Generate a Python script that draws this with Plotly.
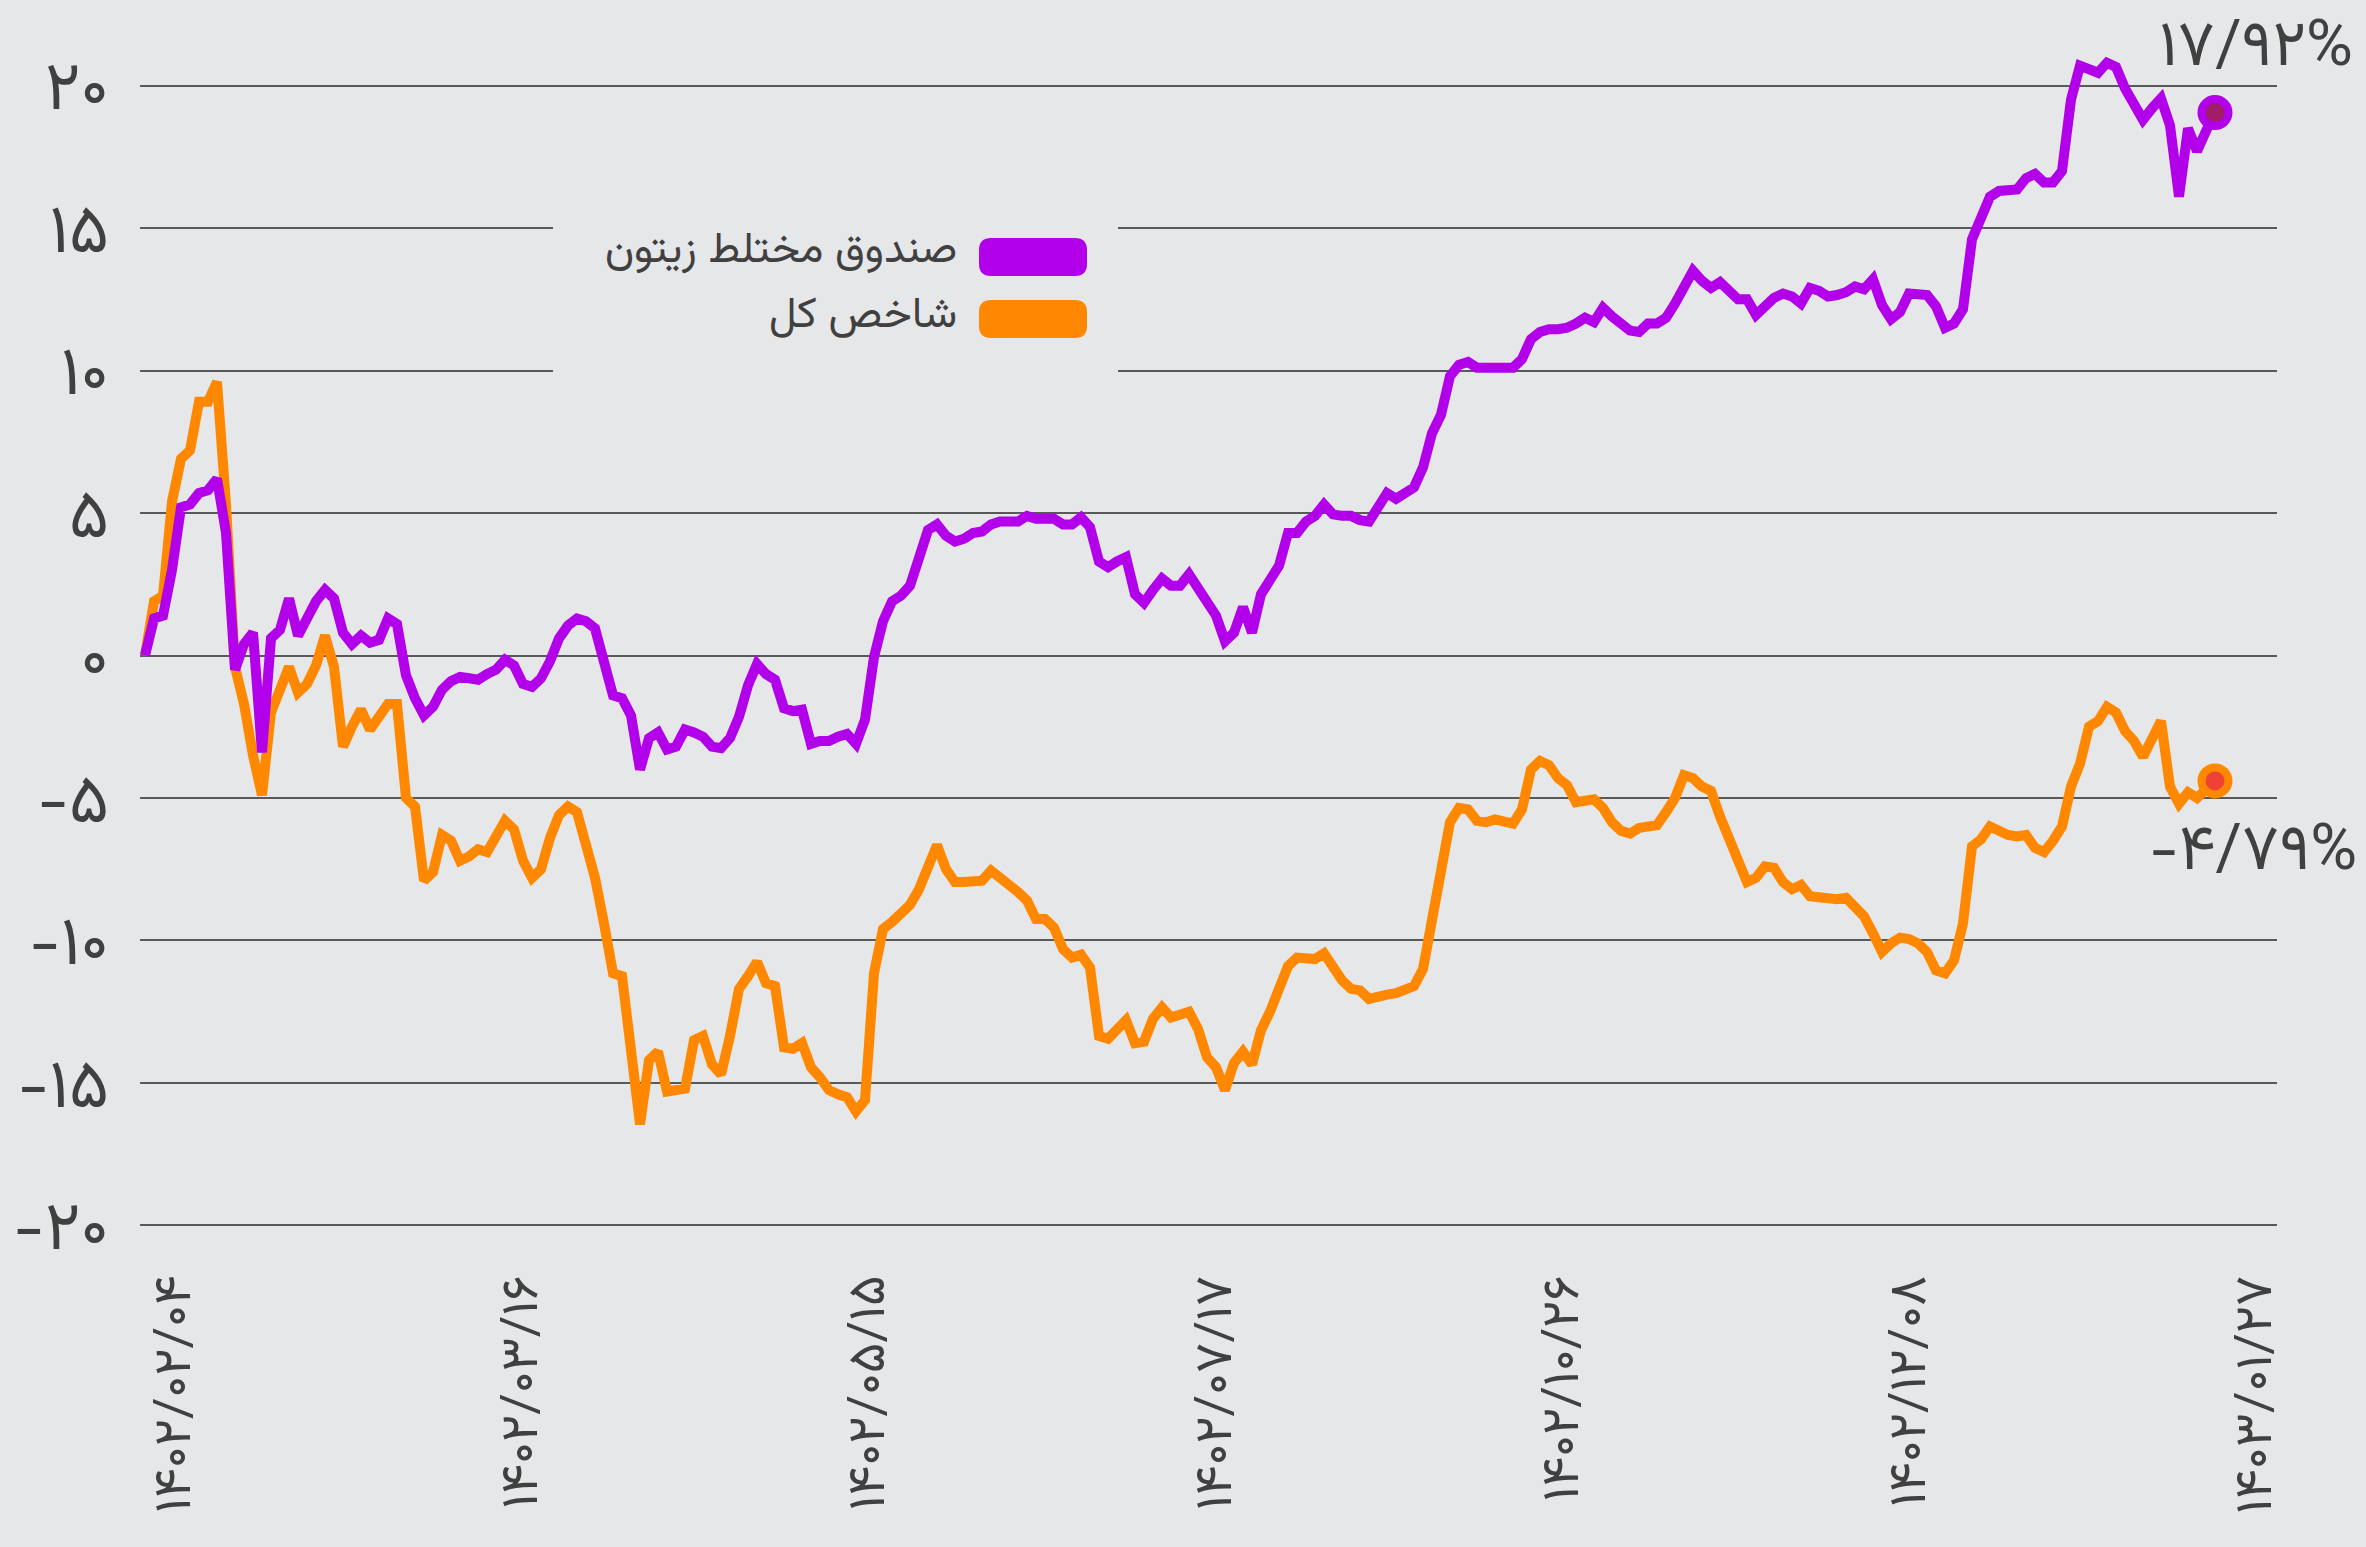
import plotly.graph_objects as go

# ---------------- data ----------------
fund_returns = [
    0.0, 1.3, 1.4, 3.0, 5.2, 5.3, 5.7, 5.8, 6.2, 4.3,
    -0.5, 0.4, 0.8, -3.4, 0.6, 0.9, 2.0, 0.7, 1.3, 1.9,
    2.3, 2.0, 0.8, 0.4, 0.7, 0.45, 0.55, 1.3, 1.1, -0.7,
    -1.5, -2.1, -1.8, -1.2, -0.9, -0.75, -0.8, -0.85, -0.65, -0.5,
    -0.15, -0.35, -1.0, -1.1, -0.8, -0.2, 0.6, 1.05, 1.3, 1.2,
    0.95, -0.25, -1.4, -1.5, -2.1, -4.0, -2.9, -2.7, -3.3, -3.2,
    -2.6, -2.7, -2.85, -3.2, -3.25, -2.9, -2.15, -1.05, -0.3, -0.65,
    -0.85, -1.85, -1.95, -1.9, -3.1, -3.0, -3.0, -2.85, -2.75, -3.1,
    -2.25, -0.05, 1.2, 1.9, 2.1, 2.45, 3.3, 4.4, 4.6, 4.2,
    4.0, 4.1, 4.3, 4.35, 4.6, 4.7, 4.7, 4.7, 4.9, 4.8,
    4.8, 4.8, 4.6, 4.6, 4.85, 4.5, 3.3, 3.1, 3.3, 3.45,
    2.15, 1.85, 2.3, 2.7, 2.45, 2.45, 2.85, 2.35, 1.8, 1.4,
    0.5, 0.8, 1.7, 0.8, 2.15, 2.65, 3.15, 4.3, 4.3, 4.7,
    4.9, 5.3, 4.95, 4.9, 4.9, 4.75, 4.7, 5.2, 5.7, 5.5,
    5.75, 5.9, 6.6, 7.8, 8.45, 9.8, 10.2, 10.3, 10.1, 10.1,
    10.15, 10.15, 10.1, 10.4, 11.1, 11.35, 11.45, 11.45, 11.5, 11.65,
    11.85, 11.7, 12.2, 11.9, 11.6, 11.4, 11.35, 11.65, 11.65, 11.85,
    12.35, 12.9, 13.5, 13.15, 12.9, 13.1, 12.8, 12.5, 12.5, 11.95,
    12.25, 12.55, 12.7, 12.6, 12.35, 12.9, 12.8, 12.6, 12.65, 12.75,
    12.95, 12.85, 13.2, 12.3, 11.8, 12.05, 12.7, 12.65, 12.65, 12.25,
    11.5, 11.65, 12.15, 14.6, 15.4, 16.1, 16.3, 16.35, 16.35, 16.75,
    16.9, 16.6, 16.6, 17.0, 19.5, 20.7, 20.6, 20.45, 20.8, 20.65,
    19.9, 19.4, 18.8, 19.2, 19.55, 18.6, 16.1, 18.5, 17.7, 18.4,
    19.05,
]

index_returns = [
    0.0, 1.9, 2.1, 5.4, 6.9, 7.2, 8.9, 8.9, 9.6, 5.3,
    -0.4, -1.7, -3.5, -4.9, -2.0, -1.1, -0.4, -1.3, -1.0, -0.35,
    0.7, -0.4, -3.2, -2.5, -1.9, -2.6, -2.2, -1.7, -1.7, -5.0,
    -5.3, -7.9, -7.6, -6.3, -6.5, -7.2, -7.05, -6.8, -6.9, -6.3,
    -5.8, -6.1, -7.2, -7.8, -7.5, -6.4, -5.6, -5.3, -5.5, -6.65,
    -7.8, -9.4, -11.15, -11.25, -13.85, -16.45, -14.2, -13.9, -15.3, -15.25,
    -15.2, -13.5, -13.35, -14.35, -14.7, -13.35, -11.7, -11.25, -10.75, -11.5,
    -11.6, -13.75, -13.8, -13.6, -14.45, -14.8, -15.25, -15.4, -15.5, -16.0,
    -15.6, -11.15, -9.6, -9.35, -9.05, -8.75, -8.2, -7.45, -6.65, -7.5,
    -7.95, -7.95, -7.9, -7.9, -7.55, -7.75, -8.05, -8.3, -8.6, -9.25,
    -9.25, -9.55, -10.3, -10.6, -10.5, -10.95, -13.35, -13.45, -13.1, -12.8,
    -13.6, -13.55, -12.75, -12.35, -12.7, -12.6, -12.5, -13.1, -14.1, -14.45,
    -15.25, -14.3, -13.9, -14.35, -13.15, -12.5, -11.8, -10.9, -10.6, -10.6,
    -10.65, -10.45, -11.0, -11.4, -11.7, -11.75, -12.05, -11.95, -11.9, -11.85,
    -11.7, -11.6, -11.0, -9.4, -7.65, -5.85, -5.35, -5.4, -5.8, -5.85,
    -5.75, -5.85, -5.9, -5.4, -4.0, -3.7, -3.85, -4.3, -4.55, -5.15,
    -5.1, -5.05, -5.35, -5.85, -6.15, -6.25, -6.05, -6.0, -5.95, -5.5,
    -5.0, -4.2, -4.3, -4.6, -4.75, -5.65, -6.45, -7.2, -7.95, -7.8,
    -7.4, -7.45, -7.95, -8.2, -8.05, -8.45, -8.5, -8.55, -8.55, -8.5,
    -8.85, -9.15, -9.75, -10.4, -10.1, -9.9, -9.95, -10.1, -10.4, -11.05,
    -11.15, -10.7, -9.4, -6.7, -6.45, -6.0, -6.15, -6.3, -6.35, -6.3,
    -6.75, -6.9, -6.5, -6.0, -4.6, -3.8, -2.5, -2.3, -1.8, -2.0,
    -2.65, -3.0, -3.55, -3.0, -2.3, -4.6, -5.2, -4.8, -5.0, -4.7,
    -4.4,
]

day_index = list(range(len(fund_returns)))

x_tick_labels = ["۱۴۰۲/۰۲/۰۴", "۱۴۰۲/۰۳/۱۶", "۱۴۰۲/۰۵/۱۵", "۱۴۰۲/۰۷/۱۷",
                 "۱۴۰۲/۱۰/۲۶", "۱۴۰۲/۱۲/۰۸", "۱۴۰۳/۰۱/۲۷"]
x_tick_positions = [3.1, 41.7, 80.2, 118.8, 157.3, 195.9, 234.4]

y_tick_values = [-20, -15, -10, -5, 0, 5, 10, 15, 20]
y_tick_labels = ["-۲۰", "-۱۵", "-۱۰", "-۵", "۰", "۵", "۱۰", "۱۵", "۲۰"]

series_names = ["صندوق مختلط زیتون", "شاخص کل"]
end_labels = ["۱۷/۹۲%", "-۴/۷۹%"]

# ---------------- style ----------------
W, H = 2366, 1547
ML, MR, MT, MB = 140, 89, 20, 307
BG = "#e6e7e9"
PURPLE = "#b200ea"
ORANGE = "#ff8800"
TEXT = "#404040"
GRID = "#595959"
FONT = "Vazirmatn, 'Noto Sans Arabic', 'DejaVu Sans', sans-serif"

plot_w = W - ML - MR
plot_h = H - MT - MB


def paper_x(px):
    return (px - ML) / plot_w


def paper_y(py):
    return (H - MB - py) / plot_h


fig = go.Figure()

fig.add_trace(go.Scatter(x=day_index, y=index_returns, mode="lines",
                         name=series_names[1],
                         line=dict(color=ORANGE, width=10)))
fig.add_trace(go.Scatter(x=day_index, y=fund_returns, mode="lines",
                         name=series_names[0],
                         line=dict(color=PURPLE, width=10)))

fig.add_trace(go.Scatter(x=[day_index[-1]], y=[index_returns[-1]], mode="markers",
                         marker=dict(size=27, color="#ef4136",
                                     line=dict(color=ORANGE, width=8))))
fig.add_trace(go.Scatter(x=[day_index[-1]], y=[fund_returns[-1]], mode="markers",
                         marker=dict(size=27, color="#a21d67",
                                     line=dict(color=PURPLE, width=8))))

# end labels
fig.add_annotation(x=day_index[-1], y=fund_returns[-1], text=end_labels[0],
                   showarrow=False, xanchor="center", yanchor="middle",
                   xshift=41, yshift=64,
                   font=dict(family=FONT, size=64, color=TEXT))
fig.add_annotation(x=day_index[-1], y=index_returns[-1], text=end_labels[1],
                   showarrow=False, xanchor="center", yanchor="middle",
                   xshift=38, yshift=-72,
                   font=dict(family=FONT, size=64, color=TEXT))

# legend (custom)
shapes = [
    dict(type="rect", xref="paper", yref="paper",
         x0=paper_x(553), x1=paper_x(1118), y0=paper_y(195), y1=paper_y(405),
         fillcolor=BG, line=dict(width=0), layer="above"),
]
rr = ("M 12,0 L 96,0 Q 108,0 108,-12 L 108,-26 Q 108,-38 96,-38 "
      "L 12,-38 Q 0,-38 0,-26 L 0,-12 Q 0,0 12,0 Z")
for top, col in [(238, PURPLE), (300, ORANGE)]:
    shapes.append(dict(type="path", xref="paper", yref="paper",
                       xsizemode="pixel", ysizemode="pixel",
                       xanchor=paper_x(979), yanchor=paper_y(top),
                       path=rr, fillcolor=col, line=dict(width=0),
                       layer="above"))
fig.update_layout(shapes=shapes)

for name, cy in [(series_names[0], 252), (series_names[1], 317)]:
    fig.add_annotation(xref="paper", yref="paper", x=paper_x(959), y=paper_y(cy),
                       text=name, showarrow=False, xanchor="right",
                       yanchor="middle",
                       font=dict(family=FONT, size=43, color=TEXT))

fig.update_xaxes(range=[-0.556, 236.89], tickvals=x_tick_positions,
                 ticktext=x_tick_labels, tickangle=-90, showgrid=False,
                 zeroline=False, showline=False, ticks="", automargin=False,
                 ticklabelstandoff=24,
                 tickfont=dict(family=FONT, size=52, color=TEXT))
fig.update_yaxes(range=[-20.51, 22.3], tickvals=y_tick_values,
                 ticktext=y_tick_labels, showgrid=True, gridcolor=GRID,
                 gridwidth=2, zeroline=False, showline=False, ticks="",
                 automargin=False, ticklabelstandoff=30,
                 tickfont=dict(family=FONT, size=68, color=TEXT))

fig.update_layout(width=W, height=H, margin=dict(l=ML, r=MR, t=MT, b=MB,
                                                  autoexpand=False),
                  paper_bgcolor=BG, plot_bgcolor=BG, showlegend=False,
                  font=dict(family=FONT, color=TEXT))

page_fix = ("document.body.style.margin='0';document.body.style.padding='0';"
            "document.body.style.overflow='hidden';"
            "document.body.style.background='#e6e7e9';")
fig.write_html("out.html", config={"displayModeBar": False}, post_script=page_fix)
